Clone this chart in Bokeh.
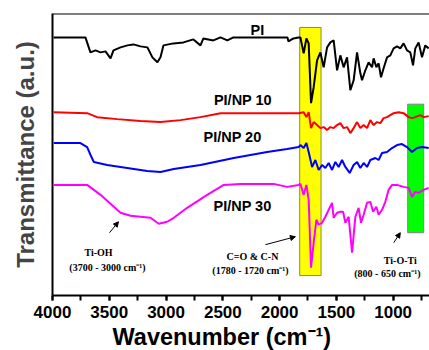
from bokeh.plotting import figure
from bokeh.models import Range1d, SingleIntervalTicker, FixedTicker, Span, Arrow, NormalHead, Title
from bokeh.core.properties import value
from bokeh.embed import file_html
from bokeh.resources import INLINE

# ---------------- data (wavenumber in cm-1, transmittance in a.u.) ----------------
pi_wn = [3991, 3710, 3666, 3621, 3577, 3533, 3489, 3463, 3401, 3340, 3287, 3225, 3164, 3120, 3076,
         3049, 3023, 2935, 2847, 2759, 2697, 2671, 2583, 2521, 2460, 2407, 1931, 1922, 1878, 1834,
         1817, 1788, 1764, 1744, 1723, 1700, 1670, 1641, 1612, 1582, 1553, 1524, 1494, 1465, 1436,
         1406, 1377, 1348, 1318, 1289, 1274, 1245, 1216, 1186, 1172, 1148, 1128, 1107, 1084, 1054,
         1025, 996, 966, 937, 908, 878, 849, 825, 805, 776, 746, 717, 687]
pi_t = [260, 260, 245, 247, 245, 246, 239, 247, 250, 252, 253, 251, 250, 240, 235,
        240, 252, 254, 255, 258, 252, 259, 257, 260, 257, 260, 260, 256, 259, 260,
        260, 244, 259, 254, 194, 210, 237, 245, 230, 250, 255, 257, 227, 242, 230,
        240, 207, 217, 245, 224, 217, 227, 235, 230, 239, 230, 234, 220, 229, 240,
        242, 249, 251, 249, 254, 247, 245, 232, 249, 255, 240, 252, 249]

np10_wn = [3989, 3695, 3607, 3430, 3225, 3049, 2873, 2697, 2521, 2345, 2110, 1934, 1832, 1788,
           1764, 1744, 1723, 1700, 1670, 1641, 1612, 1582, 1553, 1524, 1494, 1465, 1436, 1406,
           1377, 1348, 1318, 1289, 1260, 1230, 1201, 1172, 1142, 1113, 1084, 1054, 1025, 996,
           952, 908, 864, 834, 805, 761, 732, 687]
np10_t = [185, 184, 180, 178, 176, 175, 177, 180, 184, 184, 184, 184, 184, 185,
          180, 185, 169, 175, 172, 169, 170, 167, 170, 169, 172, 174, 169, 170,
          164, 169, 175, 169, 172, 169, 177, 172, 175, 174, 179, 180, 182, 184,
          185, 184, 180, 179, 180, 182, 180, 181]

np20_wn = [3989, 3871, 3754, 3695, 3665, 3636, 3518, 3342, 3166, 3049, 2932, 2697, 2404, 2110,
           1934, 1832, 1817, 1788, 1764, 1744, 1714, 1685, 1656, 1626, 1597, 1568, 1538, 1509,
           1480, 1450, 1421, 1383, 1348, 1318, 1289, 1260, 1230, 1201, 1157, 1128, 1098, 1054,
           1010, 966, 922, 878, 834, 790, 746, 687]
np20_t = [154, 154, 154, 150, 142, 135, 132, 129, 126, 125, 128, 132, 139, 145,
          148, 150, 152, 149, 154, 145, 130, 137, 127, 132, 129, 134, 127, 135,
          130, 137, 130, 124, 132, 135, 129, 134, 130, 137, 139, 137, 144, 145,
          149, 152, 153, 150, 145, 149, 150, 149]

np30_wn = [3989, 3695, 3577, 3460, 3401, 3313, 3137, 3064, 2990, 2932, 2814, 2638, 2492, 2345,
           2052, 1934, 1832, 1817, 1788, 1764, 1744, 1723, 1700, 1676, 1656, 1626, 1597, 1568,
           1538, 1524, 1494, 1465, 1441, 1421, 1392, 1362, 1333, 1304, 1283, 1260, 1230, 1201,
           1177, 1148, 1128, 1098, 1069, 1040, 1010, 966, 908, 864, 834, 805, 776, 732, 687]
np30_t = [112, 112, 102, 90, 84, 81, 79, 73, 75, 79, 89, 102, 112, 113,
          113, 110, 112, 113, 102, 112, 97, 29, 54, 77, 72, 74, 80, 87,
          94, 79, 84, 85, 85, 74, 80, 44, 80, 89, 74, 82, 94, 95,
          85, 90, 82, 87, 95, 107, 112, 112, 110, 109, 100, 105, 104, 107, 109]

series_names = ["PI", "PI/NP 10", "PI/NP 20", "PI/NP 30"]
series_colors = ["black", "#ff0000", "#0000ff", "#ff00ff"]
series_label_wn = [2195, 2323, 2415, 2327]
series_label_t = [267, 197, 160, 91]

# highlighted bands: (high wn, low wn, bottom, top)
band_left = [1823, 872]
band_right = [1635, 731]
band_bottom = [21, 64]
band_top = [270, 193]
band_fill = ["#ffff00", "#00ff00"]
band_line = ["#8a8a3a", "#808080"]

ann_text = ["Ti-OH", "(3700 - 3000 cm\u207b\u00b9)", "C=O & C-N", "(1780 - 1720 cm\u207b\u00b9)",
            "Ti-O-Ti", "(800 - 650 cm\u207b\u00b9)"]
ann_wn = [3595, 3516, 2239, 2257, 937, 1051]
ann_t = [44, 29, 40, 26, 36, 23]

arrow_x0 = [3498, 2125, 995]
arrow_y0 = [64, 52, 54]
arrow_x1 = [3419, 1861, 937]
arrow_y1 = [75, 60, 64]

x_title = "Wavenumber (cm\u207b\u00b9)"
y_title = "Transmittance (a.u.)"

# ---------------- figure ----------------
p = figure(width=429, height=350, output_backend="svg", toolbar_location=None,
           x_range=Range1d(4000, 680), y_range=Range1d(1, 284),
           min_border_left=52, min_border_right=0, min_border_top=13, min_border_bottom=54)
p.outline_line_color = None
p.background_fill_color = "white"
p.border_fill_color = "white"
p.xgrid.visible = False
p.ygrid.visible = False

# bands
p.quad(left=band_left, right=band_right, bottom=band_bottom, top=band_top,
       fill_color=band_fill, line_color=band_line, line_width=1)

# spectra
xs = [pi_wn, np10_wn, np20_wn, np30_wn]
ys = [pi_t, np10_t, np20_t, np30_t]
for xv, yv, c in zip(xs, ys, series_colors):
    p.line(xv, yv, line_color=c, line_width=2)

# series labels
p.text(x=series_label_wn, y=series_label_t, text=series_names,
       text_font=value("Liberation Sans"), text_font_style="bold", text_font_size="14.5px",
       text_align="center", text_baseline="middle", text_color="black")

# annotations
p.text(x=ann_wn, y=ann_t, text=ann_text,
       text_font=value("Liberation Serif"), text_font_style="bold", text_font_size="10px",
       text_align="center", text_baseline="middle", text_color="black")

for x0, y0, x1, y1 in zip(arrow_x0, arrow_y0, arrow_x1, arrow_y1):
    p.add_layout(Arrow(x_start=x0, y_start=y0, x_end=x1, y_end=y1, line_width=1, line_color="black",
                       end=NormalHead(size=5, fill_color="black", line_color="black")))

# top frame line
p.add_layout(Span(location=284, dimension="width", line_color="black", line_width=2))

# x axis
xa = p.xaxis[0]
xa.ticker = SingleIntervalTicker(interval=500, num_minor_ticks=2)
xa.major_label_text_font = "Liberation Sans"
xa.major_label_text_font_style = "bold"
xa.major_label_text_font_size = "17px"
xa.major_label_text_color = "black"
xa.major_label_standoff = 5
xa.axis_line_width = 2
xa.axis_line_color = "black"
xa.major_tick_line_width = 2
xa.minor_tick_line_width = 2
xa.major_tick_in = 0
xa.major_tick_out = 5
xa.minor_tick_in = 0
xa.minor_tick_out = 5

# x-axis title placed as a title below the axis
p.add_layout(Title(text=x_title, align="left", offset=60, standoff=2,
                   text_font="Liberation Sans", text_font_style="bold", text_font_size="23.5px",
                   text_color="black"), "below")

# y axis
ya = p.yaxis[0]
ya.ticker = FixedTicker(ticks=[])
ya.axis_label = y_title
ya.axis_label_text_font = "Liberation Sans"
ya.axis_label_text_font_style = "bold"
ya.axis_label_text_font_size = "24px"
ya.axis_label_standoff = 14
ya.axis_line_width = 2
ya.axis_line_color = "black"
ya.major_tick_line_color = None
ya.minor_tick_line_color = None

open("out.html", "w").write(file_html(p, INLINE))
